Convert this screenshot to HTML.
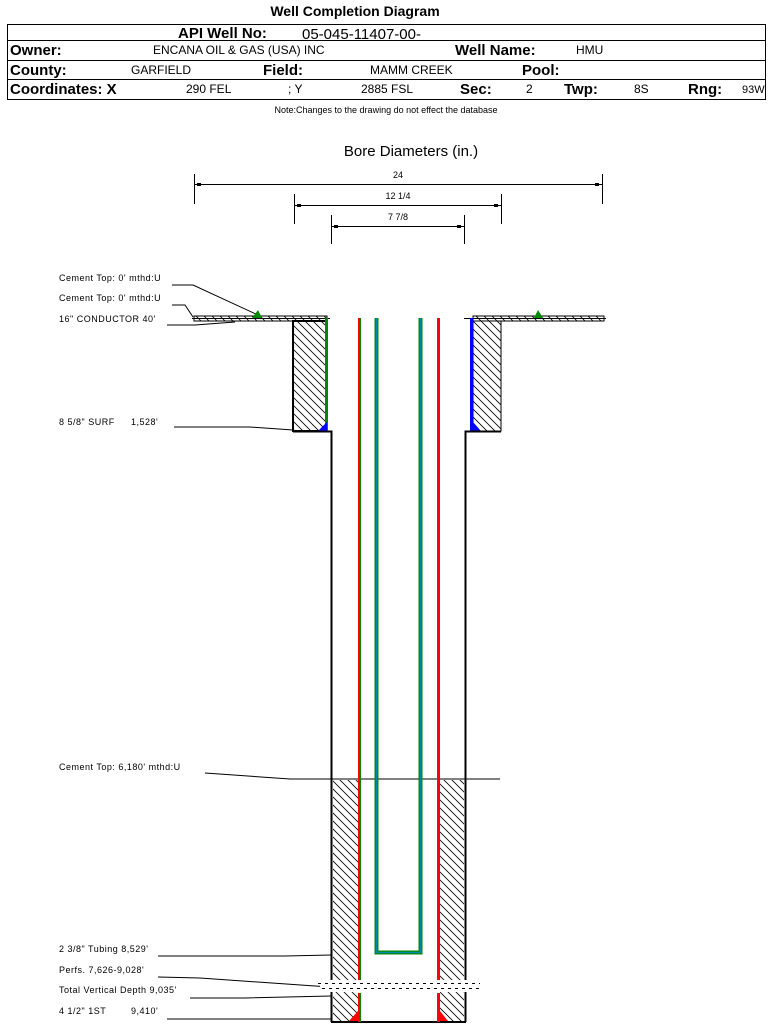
<!DOCTYPE html>
<html><head><meta charset="utf-8"><style>
body{margin:0;background:#fff;width:769px;height:1025px;overflow:hidden;font-family:"Liberation Sans",Arial,sans-serif}
svg{position:absolute;left:0;top:0}
</style></head><body>
<svg width="769" height="1025" viewBox="0 0 769 1025" font-family="Liberation Sans, Arial, sans-serif">
<defs>
<pattern id="h" width="8" height="8" patternUnits="userSpaceOnUse">
<path d="M0,0 L8,8 M-4,4 L4,12 M4,-4 L12,4" stroke="#000" stroke-width="0.8"/>
</pattern>
</defs>
<text x="355" y="16" font-size="14" font-weight="bold" text-anchor="middle">Well Completion Diagram</text>
<rect x="7.5" y="24.5" width="758" height="75" fill="none" stroke="#000" stroke-width="1"/>
<line x1="7" y1="40.5" x2="766" y2="40.5" stroke="#000"/>
<line x1="7" y1="60.5" x2="766" y2="60.5" stroke="#000"/>
<line x1="7" y1="79.5" x2="766" y2="79.5" stroke="#000"/>
<g font-size="15" font-weight="bold">
<text x="178" y="38">API Well No:</text>
<text x="10" y="55">Owner:</text>
<text x="455" y="55">Well Name:</text>
<text x="10" y="75">County:</text>
<text x="263" y="75">Field:</text>
<text x="522" y="75">Pool:</text>
<text x="10" y="94">Coordinates: X</text>
<text x="460" y="94">Sec:</text>
<text x="564" y="94">Twp:</text>
<text x="688" y="94">Rng:</text>
</g>
<text x="302" y="39" font-size="15">05-045-11407-00-</text>
<g font-size="12">
<text x="153" y="54">ENCANA OIL &amp; GAS (USA) INC</text>
<text x="576" y="54">HMU</text>
<text x="131" y="74">GARFIELD</text>
<text x="370" y="74">MAMM CREEK</text>
<text x="186" y="93">290 FEL</text>
<text x="288" y="93">; Y</text>
<text x="361" y="93">2885 FSL</text>
<text x="526" y="93">2</text>
<text x="634" y="93">8S</text>
<text x="742" y="93" font-size="11">93W</text>
</g>
<text x="386" y="113" font-size="9" text-anchor="middle">Note:Changes to the drawing do not effect the database</text>

<text x="411" y="156" font-size="15" text-anchor="middle">Bore Diameters (in.)</text>
<g stroke="#000" stroke-width="1" fill="none">
<line x1="194.5" y1="174" x2="194.5" y2="204"/><line x1="602.5" y1="174" x2="602.5" y2="204"/>
<line x1="195" y1="184.5" x2="602" y2="184.5"/>
<line x1="294.5" y1="194" x2="294.5" y2="224"/><line x1="501.5" y1="194" x2="501.5" y2="224"/>
<line x1="295" y1="205.5" x2="501" y2="205.5"/>
<line x1="331.5" y1="215" x2="331.5" y2="244"/><line x1="464.5" y1="215" x2="464.5" y2="244"/>
<line x1="332" y1="226.5" x2="464" y2="226.5"/>
</g>
<g fill="#000"><rect x="197" y="183" width="4" height="3"/><rect x="595" y="183" width="4" height="3"/>
<rect x="297" y="204" width="4" height="3"/><rect x="494" y="204" width="4" height="3"/>
<rect x="334" y="225" width="4" height="3"/><rect x="457" y="225" width="4" height="3"/></g>
<g font-size="9" text-anchor="middle"><text x="398" y="178">24</text><text x="398" y="199">12 1/4</text><text x="398" y="220">7 7/8</text></g>

<g font-size="9" letter-spacing="0.5">
<text x="59" y="281">Cement Top: 0' mthd:U</text>
<text x="59" y="301">Cement Top: 0' mthd:U</text>
<text x="59" y="322">16" CONDUCTOR  40'</text>
<text x="59" y="425">8 5/8" SURF</text><text x="131" y="425">1,528'</text>
<text x="59" y="770">Cement Top: 6,180' mthd:U</text>
<text x="59" y="952">2 3/8" Tubing 8,529'</text>
<text x="59" y="973">Perfs. 7,626-9,028'</text>
<text x="59" y="993">Total Vertical Depth 9,035'</text>
<text x="59" y="1014">4 1/2" 1ST</text><text x="131" y="1014">9,410'</text>
</g>
<g stroke="#000" stroke-width="1" fill="none">
<polyline points="172,285 193,285 258,315"/>
<polyline points="172,305 185,305 193,317"/>
<polyline points="167,325 195,325 235,322"/>
<polyline points="174,427 250,427 293,430"/>
<polyline points="205,773 290,779 500,779"/>
<polyline points="158,956 285,956 331,955"/>
<polyline points="158,977 200,978 315,986 331,987"/>
<polyline points="190,998 245,998 331,996"/>
<polyline points="167,1019 240,1019 331,1019"/>
</g>

<line x1="192" y1="318.5" x2="330" y2="318.5" stroke="#000"/>
<line x1="464" y1="318.5" x2="606" y2="318.5" stroke="#000"/>
<rect x="194" y="316" width="133" height="5" fill="url(#h)" stroke="#000"/>
<rect x="473" y="316" width="131" height="5" fill="url(#h)" stroke="#000"/>
<polygon points="252,318 258,310 262,318" fill="#080"/>
<polygon points="534,318 538,310 543,318" fill="#080"/>

<rect x="293" y="321" width="33" height="110" fill="url(#h)" stroke="#000" stroke-width="2"/>
<rect x="473" y="321" width="28" height="110" fill="url(#h)" stroke="#000"/>
<rect x="325" y="318" width="3" height="113" fill="#080"/>
<rect x="470" y="318" width="3" height="113" fill="#00f"/>
<polygon points="318,431 327,422 327,431" fill="#00f"/>
<polygon points="473,422 473,431 481,431" fill="#00f"/>
<polyline points="293,431.5 331.5,431.5 331.5,1022" fill="none" stroke="#000" stroke-width="2"/>
<polyline points="501,431.5 465.5,431.5 465.5,1022" fill="none" stroke="#000" stroke-width="2"/>
<line x1="331" y1="1022" x2="466" y2="1022" stroke="#000" stroke-width="2"/>

<rect x="333" y="780" width="25" height="241" fill="url(#h)"/>
<rect x="440" y="780" width="24" height="241" fill="url(#h)"/>
<rect x="320" y="980" width="160" height="12" fill="#fff"/>
<g stroke="#000" stroke-dasharray="3,4" stroke-width="1">
<line x1="318" y1="983.5" x2="480" y2="983.5"/>
<line x1="322" y1="988.5" x2="482" y2="988.5"/>
</g>
<polygon points="349,1021 358,1011 358,1021" fill="#f00"/>
<polygon points="440,1011 440,1021 448,1021" fill="#f00"/>

<g>
<rect x="358" y="318" width="2" height="662" fill="#f00"/><rect x="360" y="318" width="1" height="662" fill="#080"/>
<rect x="358" y="993" width="2" height="29" fill="#f00"/><rect x="360" y="993" width="1" height="29" fill="#080"/>
<rect x="437" y="318" width="1" height="662" fill="#080"/><rect x="438" y="318" width="2" height="662" fill="#f00"/>
<rect x="437" y="993" width="1" height="29" fill="#080"/><rect x="438" y="993" width="2" height="29" fill="#f00"/>
</g>
<path d="M376.5,318 V952.5 H420.5 V318" fill="none" stroke="#080" stroke-width="4"/>
<path d="M376.5,318 V952.5 H420.5 V318" fill="none" stroke="#08a" stroke-width="1.5"/>
</svg>
</body></html>
